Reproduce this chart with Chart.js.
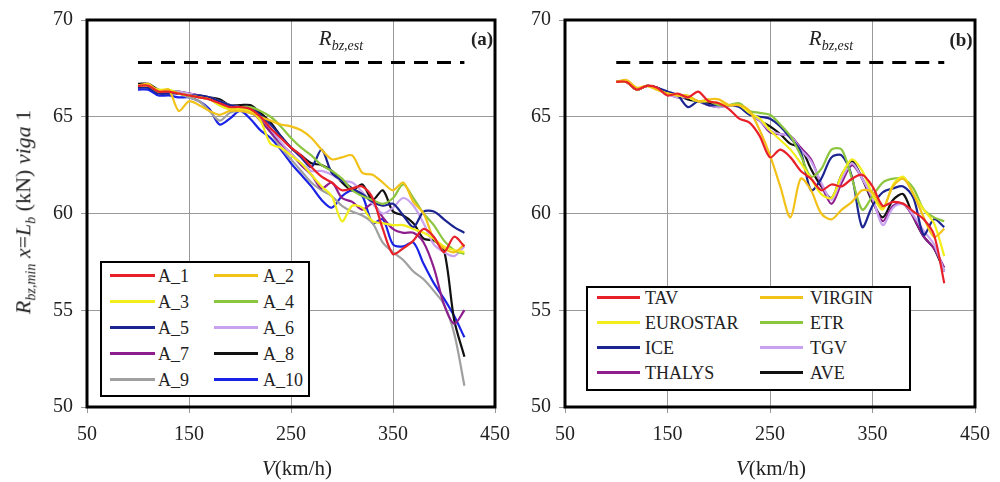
<!DOCTYPE html>
<html>
<head>
<meta charset="utf-8">
<script src="https://cdn.jsdelivr.net/npm/chart.js@4.4.1/dist/chart.umd.min.js"></script>
<style>
  body { margin: 0; background: #fff; font-family: 'Liberation Serif', serif; color: #222; }
  #page { position: relative; width: 1000px; height: 482px; overflow: hidden; }
  canvas { position: absolute; top: 0; }
  .lbl { position: absolute; white-space: nowrap; transform: translate(-50%, -50%); }
  .ytitle { font-size: 22px; transform: translate(-50%, -50%) rotate(-90deg); }
  .xtitle { font-size: 21px; }
  .est { font-size: 21px; }
  .est sub, .ytitle sub { font-size: 14px; }
  .panel { font-size: 19px; font-weight: bold; }
  .legend { position: absolute; border: 2.5px solid #000; background: #fff; box-sizing: border-box; }
  .legend .item { position: absolute; height: 20px; font-size: 18px; line-height: 20px; }
  .legend .sw { position: absolute; top: 8px; height: 3px; }
  .legend .tx { position: absolute; top: 0; }
</style>
</head>
<body>
<div id="page">
  <canvas id="chartA" width="520" height="482" style="left:0"></canvas>
  <canvas id="chartB" width="500" height="482" style="left:500px"></canvas>

  <div class="lbl ytitle" style="left:25px; top:212px"><i>R</i><sub><i>bz,min</i></sub> <i>x</i>=<i>L</i><sub><i>b</i></sub> (kN) <i>viga</i> 1</div>
  <div class="lbl xtitle" style="left:297px; top:468px"><i>V</i>(km/h)</div>
  <div class="lbl xtitle" style="left:771px; top:468px"><i>V</i>(km/h)</div>
  <div class="lbl est" style="left:341px; top:40px"><i>R</i><sub><i>bz,est</i></sub></div>
  <div class="lbl est" style="left:831px; top:40px"><i>R</i><sub><i>bz,est</i></sub></div>
  <div class="lbl panel" style="left:482px; top:39px">(a)</div>
  <div class="lbl panel" style="left:961px; top:40px">(b)</div>

  <div id="legA" class="legend" style="left:100px; top:261px; width:210px; height:136px"></div>
  <div id="legB" class="legend" style="left:586px; top:286px; width:325px; height:105px"></div>
</div>

<script>
// velocidades (km/h)
const speeds = [100, 110, 120, 130, 140, 150, 160, 170, 180, 190,
                200, 210, 220, 230, 240, 250, 260, 270, 280, 290,
                300, 310, 320, 330, 340, 350, 360, 370, 380, 390,
                400, 410, 420];

const estLevel = 67.8;
const estRange = [100, 420];

// (a) trenes articulados A_1 .. A_10
const namesA = ['A_1', 'A_2', 'A_3', 'A_4', 'A_5', 'A_6', 'A_7', 'A_8', 'A_9', 'A_10'];
const A_1 = [66.6, 66.6, 66.3, 66.3, 66.2, 66.1, 66.0, 65.9, 65.7, 65.5,
             65.5, 65.4, 65.0, 64.4, 63.9, 63.4, 63.0, 62.4, 61.9, 61.6,
             61.2, 61.3, 61.4, 60.8, 59.2, 57.9, 58.2, 58.6, 59.2, 58.8,
             58.0, 58.8, 58.3];
const A_2 = [66.6, 66.7, 66.3, 66.4, 65.3, 65.8, 65.6, 65.3, 65.1, 65.3,
             65.3, 65.2, 65.0, 64.8, 64.6, 64.5, 64.3, 63.9, 63.3, 62.8,
             62.9, 63.0, 62.1, 62.0, 61.6, 61.2, 61.6, 60.6, 60.0, 58.7,
             58.2, 58.0, 58.4];
const A_3 = [66.6, 66.6, 66.4, 66.4, 66.2, 66.1, 66.0, 65.9, 65.6, 65.4,
             65.4, 65.3, 64.8, 63.6, 63.4, 63.0, 62.6, 62.0, 61.4, 60.9,
             59.6, 60.4, 60.3, 59.6, 59.5, 59.4, 59.4, 59.2, 59.0, 58.7,
             58.3, 58.1, 58.0];
const A_4 = [66.6, 66.6, 66.3, 66.4, 66.2, 66.1, 66.0, 65.9, 65.6, 65.4,
             65.5, 65.5, 65.3, 65.0, 64.5, 63.9, 63.4, 63.0, 62.5, 62.2,
             61.8, 61.2, 60.9, 60.7, 60.5, 60.8, 61.5, 60.8, 60.0, 59.4,
             58.6, 58.1, 57.9];
const A_5 = [66.5, 66.5, 66.2, 66.2, 66.2, 66.1, 66.1, 66.0, 65.8, 65.6,
             65.5, 65.5, 65.1, 64.6, 64.0, 63.4, 62.9, 62.4, 63.3, 62.1,
             61.7, 61.3, 61.0, 60.6, 60.4, 60.5, 59.9, 59.3, 60.1, 60.1,
             59.7, 59.3, 59.0];
const A_6 = [66.6, 66.6, 66.3, 66.3, 66.3, 66.2, 66.1, 66.0, 65.8, 65.6,
             65.5, 65.4, 65.0, 64.4, 63.7, 63.1, 62.6, 62.2, 62.2, 62.0,
             61.7, 61.6, 61.1, 60.5, 60.0, 60.3, 60.8, 60.4, 59.5, 58.4,
             58.0, 57.8, 58.3];
const A_7 = [66.6, 66.6, 66.3, 66.3, 66.2, 66.2, 66.1, 65.9, 65.7, 65.5,
             65.5, 65.3, 64.8, 64.2, 63.6, 63.1, 62.5, 62.0, 61.3, 61.6,
             60.8, 60.6, 60.2, 60.5, 59.8, 59.2, 59.0, 59.0, 58.5, 57.2,
             55.3, 54.3, 55.0];
const A_8 = [66.7, 66.7, 66.4, 66.3, 66.3, 66.2, 66.1, 66.0, 65.9, 65.6,
             65.6, 65.6, 65.2, 64.7, 64.0, 63.4, 63.0, 62.6, 62.5, 62.2,
             61.6, 61.2, 61.5, 60.7, 61.2, 60.1, 59.9, 59.5, 58.7, 58.6,
             58.1, 54.5, 52.6];
const A_9 = [66.6, 66.6, 66.3, 66.3, 66.2, 66.0, 65.8, 65.3, 64.8, 65.2,
             65.3, 65.2, 64.9, 64.2, 63.4, 62.8, 62.2, 61.6, 61.2, 60.9,
             60.4, 60.1, 59.9, 59.5, 58.5, 58.0, 57.6, 57.0, 56.6, 56.0,
             55.3, 53.8, 51.1];
const A_10 = [66.4, 66.4, 66.1, 66.1, 66.0, 66.0, 65.8, 65.4, 64.6, 64.9,
              65.3, 64.9, 64.3, 63.9, 63.3, 62.6, 62.0, 61.4, 60.7, 60.3,
              60.9, 61.2, 60.9, 59.5, 59.7, 58.4, 58.3, 58.5, 57.4, 56.4,
              55.6, 54.7, 53.6];
const seriesA = [A_1, A_2, A_3, A_4, A_5, A_6, A_7, A_8, A_9, A_10];
const colorsA = ['#e8202a', '#f2c218', '#f2ee1a', '#8cc63f', '#1b2490',
                 '#c8a2ef', '#8e1e8e', '#111111', '#a0a0a0', '#1a22e6'];

// (b) trenes reales
const namesB = ['TAV', 'VIRGIN', 'EUROSTAR', 'ETR', 'ICE', 'TGV', 'THALYS', 'AVE'];
const TAV = [66.8, 66.8, 66.4, 66.6, 66.5, 66.1, 66.2, 66.0, 66.3, 65.8,
             65.7, 65.4, 64.9, 64.7, 64.0, 62.9, 63.3, 62.9, 62.2, 61.8,
             61.2, 61.5, 61.4, 61.8, 62.0, 61.4, 60.4, 60.6, 60.5, 60.1,
             59.7, 58.9, 56.4];
const VIRGIN = [66.8, 66.9, 66.5, 66.6, 66.4, 66.2, 66.1, 66.1, 65.8, 65.9,
                65.9, 65.6, 65.6, 65.3, 64.3, 63.0, 61.4, 59.8, 61.8, 61.2,
                60.0, 59.7, 60.2, 60.6, 61.2, 61.1, 60.3, 61.4, 61.8, 61.0,
                59.8, 58.8, 59.2];
const EUROSTAR = [66.8, 66.8, 66.4, 66.6, 66.4, 66.2, 66.1, 66.0, 65.8, 65.8,
                  65.7, 65.6, 65.6, 65.2, 64.9, 64.3, 63.8, 63.3, 62.6, 61.8,
                  61.0, 60.8, 62.0, 62.8, 62.2, 61.0, 60.2, 61.5, 61.9, 61.0,
                  60.2, 59.5, 57.8];
const ETR = [66.8, 66.8, 66.4, 66.6, 66.4, 66.2, 66.1, 66.0, 65.8, 65.8,
             65.6, 65.6, 65.7, 65.3, 65.2, 65.1, 64.6, 64.0, 63.0, 61.9,
             62.3, 63.3, 63.3, 61.8, 60.2, 60.9, 61.6, 61.8, 61.8, 61.3,
             60.2, 59.8, 59.6];
const ICE = [66.8, 66.8, 66.4, 66.6, 66.5, 66.3, 66.1, 65.5, 65.8, 65.6,
             65.6, 65.6, 65.5, 65.1, 65.0, 64.9, 64.5, 63.9, 63.2, 61.2,
             61.8, 62.9, 63.0, 61.9, 59.3, 60.4, 61.1, 61.3, 61.4, 60.8,
             58.9, 59.7, 59.3];
const TGV = [66.8, 66.8, 66.4, 66.6, 66.5, 66.2, 66.0, 66.0, 65.8, 65.6,
             65.5, 65.6, 65.6, 65.2, 64.8, 64.3, 64.1, 64.0, 63.3, 62.7,
             61.6, 60.7, 61.8, 62.6, 61.8, 60.8, 59.4, 60.3, 60.5, 59.9,
             59.1, 58.4, 57.0];
const THALYS = [66.8, 66.8, 66.4, 66.6, 66.5, 66.2, 66.0, 66.0, 65.8, 65.6,
                65.5, 65.6, 65.6, 65.2, 64.8, 64.2, 64.1, 64.0, 63.4, 62.8,
                61.5, 60.5, 61.6, 62.5, 61.8, 60.7, 59.6, 60.4, 60.5, 59.8,
                58.8, 58.2, 57.2];
const AVE = [66.8, 66.8, 66.4, 66.6, 66.5, 66.2, 66.1, 65.9, 65.8, 65.7,
             65.6, 65.6, 65.6, 65.2, 64.8, 64.5, 64.1, 63.6, 63.4, 62.3,
             61.4, 60.8, 62.0, 62.7, 61.8, 60.6, 59.8, 60.7, 61.0, 59.8,
             58.8, 58.2, 57.0];
const seriesB = [TAV, VIRGIN, EUROSTAR, ETR, ICE, TGV, THALYS, AVE];
const colorsB = ['#e8202a', '#f2c218', '#f2ee1a', '#8cc63f',
                 '#1b2490', '#c8a2ef', '#8e1e8e', '#111111'];

const xTicks = [50, 150, 250, 350, 450];
const yTicks = [50, 55, 60, 65, 70];

// marco negro del área de dibujo
const frame = {
  id: 'frame',
  afterDatasetsDraw(chart) {
    const { ctx, chartArea: a } = chart;
    ctx.save();
    ctx.lineWidth = 3;
    ctx.strokeStyle = '#000';
    ctx.strokeRect(a.left, a.top, a.right - a.left, a.bottom - a.top);
    ctx.restore();
  }
};

function makeChart(id, names, series, colors, yWidth, padRight) {
  const datasets = names.map((n, i) => ({
    label: n,
    data: speeds.map((s, j) => ({ x: s, y: series[i][j] })),
    borderColor: colors[i],
    borderWidth: 2.2,
    pointRadius: 0,
    tension: 0.3,
    fill: false
  }));
  datasets.push({
    label: 'est',
    data: estRange.map(v => ({ x: v, y: estLevel })),
    borderColor: '#000',
    borderWidth: 3,
    borderDash: [14, 9],
    pointRadius: 0
  });

  const font = { family: "'Liberation Serif', serif", size: 20 };
  return new Chart(document.getElementById(id), {
    type: 'line',
    data: { datasets },
    options: {
      responsive: false,
      animation: false,
      layout: { padding: { top: 17, right: padRight, left: 0, bottom: 0 } },
      plugins: { legend: { display: false }, tooltip: { enabled: false } },
      scales: {
        x: {
          type: 'linear',
          min: xTicks[0], max: xTicks[xTicks.length - 1],
          afterBuildTicks(s) { s.ticks = xTicks.map(v => ({ value: v })); },
          ticks: { font, color: '#222', padding: 10, maxRotation: 0 },
          grid: { color: '#9a9a9a', lineWidth: 1, tickLength: 6 },
          border: { display: false },
          afterFit(s) { s.height = 75; }
        },
        y: {
          min: yTicks[0], max: yTicks[yTicks.length - 1],
          afterBuildTicks(s) { s.ticks = yTicks.map(v => ({ value: v })); },
          ticks: { font, color: '#222', padding: 8 },
          grid: { color: '#9a9a9a', lineWidth: 1, tickLength: 6 },
          border: { display: false },
          afterFit(s) { s.width = yWidth; }
        }
      }
    },
    plugins: [frame]
  });
}

makeChart('chartA', namesA, seriesA, colorsA, 87, 17);
makeChart('chartB', namesB, seriesB, colorsB, 65, 18);

// leyendas (dos columnas)
function makeLegend(elId, names, colors, rowTop, rowGap, cols) {
  const box = document.getElementById(elId);
  names.forEach((n, k) => {
    const c = cols[k % 2];
    const item = document.createElement('div');
    item.className = 'item';
    item.style.top = (rowTop + Math.floor(k / 2) * rowGap - 10) + 'px';
    item.style.left = '0px';
    item.innerHTML = `<span class="sw" style="left:${c.line}px;width:${c.len}px;background:${colors[k]}"></span>` +
                     `<span class="tx" style="left:${c.text}px">${n}</span>`;
    box.appendChild(item);
  });
}
makeLegend('legA', namesA, colorsA, 13, 26, [{ line: 8, len: 45, text: 56 }, { line: 112, len: 44, text: 161 }]);
makeLegend('legB', namesB, colorsB, 10, 25, [{ line: 9, len: 43, text: 57 }, { line: 172, len: 43, text: 222 }]);
</script>
</body>
</html>
